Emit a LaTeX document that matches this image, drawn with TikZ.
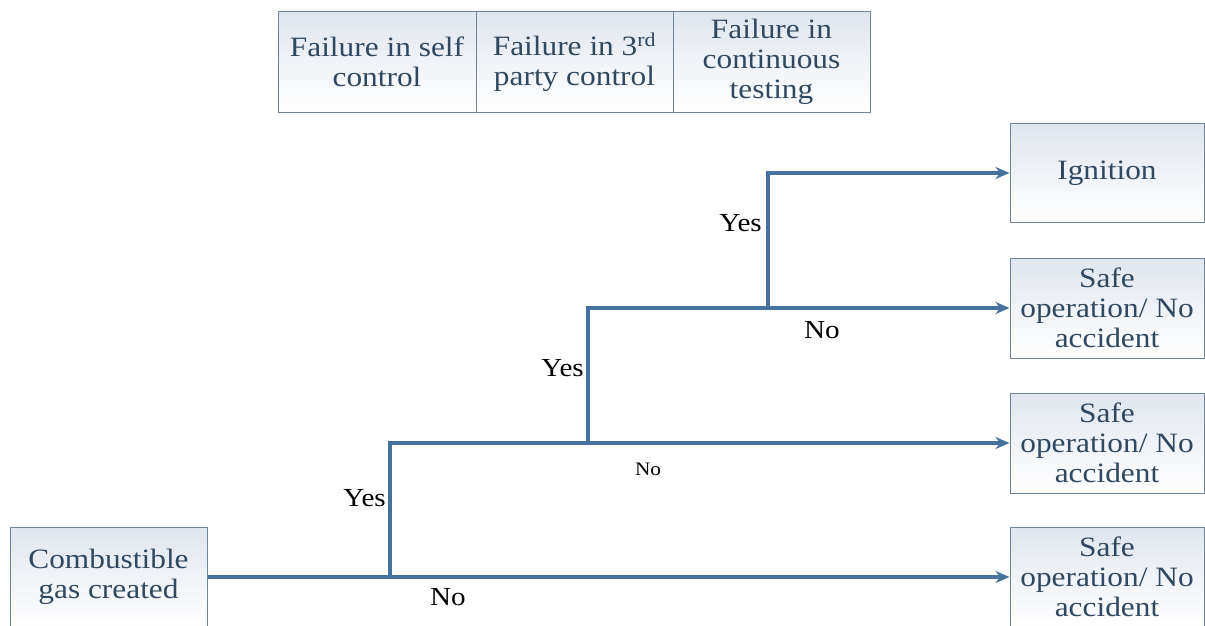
\documentclass[tikz,border=0pt]{standalone}
\usepackage{fontspec}
\setmainfont{Liberation Serif}
\newfontfamily\treefont[FakeStretch=1.12]{Liberation Serif}
\usetikzlibrary{arrows.meta}

\definecolor{flow}{RGB}{70,114,160}
\definecolor{edge}{RGB}{108,132,156}
\definecolor{ink}{RGB}{48,72,96}
\definecolor{tint}{RGB}{224,230,238}

\tikzset{
  box/.style={draw=edge, line width=1pt, top color=tint, bottom color=white,
    text=ink, align=center, font=\treefont\fontsize{28}{30}\selectfont, inner sep=0pt},
  flowline/.style={draw=flow, line width=3.2pt},
  arr/.style={flowline, -{Stealth[length=14pt,width=12pt]}},
  lab/.style={text=black, font=\treefont\fontsize{26}{28}\selectfont, inner sep=0pt},
}

\begin{document}
\begin{tikzpicture}[x=1pt, y=-1pt]
  \fill[white] (0,0) rectangle (1205,626);
  \useasboundingbox (0,0) rectangle (1205,626);

  % header row of the event tree
  \node[box, minimum width=198pt, minimum height=100pt] (h1) at (377,62)
    {Failure in self\\control};
  \node[box, minimum width=197pt, minimum height=100pt] (h2) at (574.5,62)
    {Failure in 3\textsuperscript{rd}\\party control};
  \node[box, minimum width=197pt, minimum height=100pt] (h3) at (771.5,62)
    {Failure in\\continuous\\testing};

  % initiating event and outcomes
  \node[box, minimum width=197pt, minimum height=100pt] (gas) at (108.5,577)
    {Combustible\\gas created};
  \node[box, minimum width=194pt, minimum height=99pt] (ign) at (1107,173)
    {Ignition};
  \node[box, minimum width=194pt, minimum height=100pt] (safe1) at (1107,308)
    {Safe\\operation/ No\\accident};
  \node[box, minimum width=194pt, minimum height=100pt] (safe2) at (1107,443)
    {Safe\\operation/ No\\accident};
  \node[box, minimum width=194pt, minimum height=100pt] (safe3) at (1107,577)
    {Safe\\operation/ No\\accident};

  % branch points
  \coordinate (j1) at (390,577);
  \coordinate (j2) at (588,443);
  \coordinate (j3) at (768,308);

  % branches
  \draw[arr] (gas.east) -- (safe3.west);
  \draw[arr] (j1) |- (safe2.west);
  \draw[arr] (j2) |- (safe1.west);
  \draw[arr] (j3) |- (ign.west);

  % branch labels
  \node[lab, anchor=east] (y1) at (386,498) {Yes};
  \node[lab, anchor=east] (y2) at (584,368) {Yes};
  \node[lab, anchor=east] (y3) at (762,223) {Yes};
  \node[lab] (n1) at (448,597) {No};
  \node[lab, font=\treefont\fontsize{19}{20}\selectfont] (n2) at (648,469) {No};
  \node[lab] (n3) at (822,330) {No};
\end{tikzpicture}
\end{document}
